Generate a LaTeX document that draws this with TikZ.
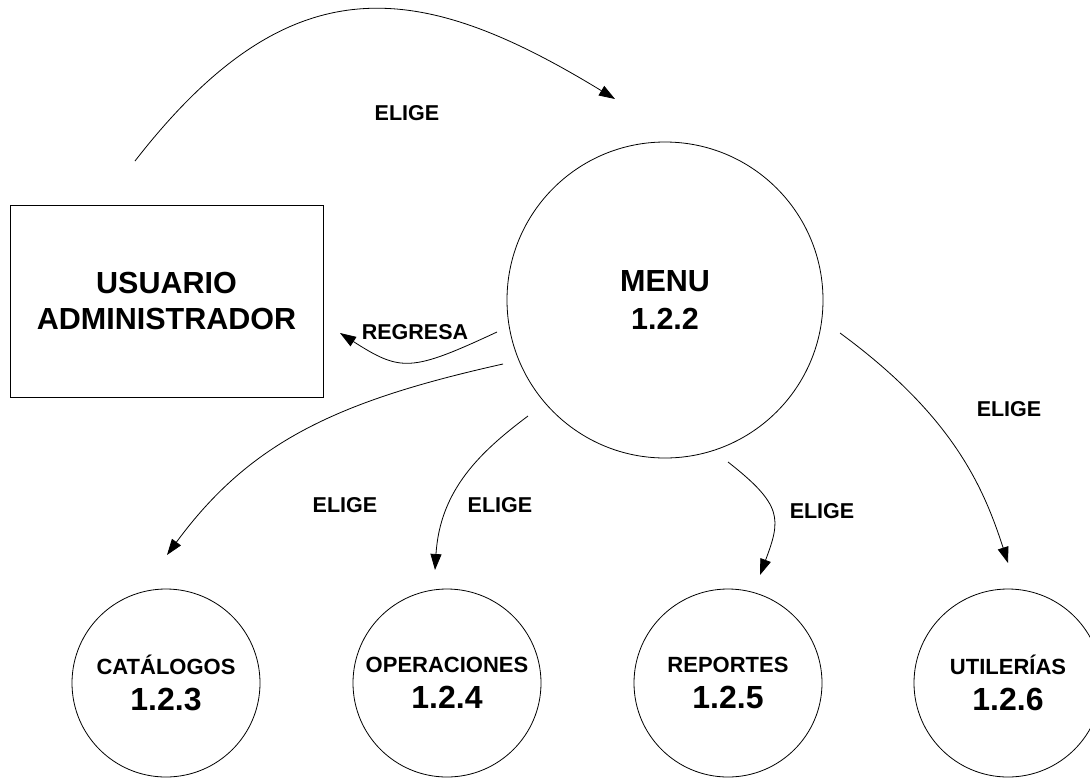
\documentclass[tikz,border=0pt]{standalone}
\usepackage{fontspec}
\setmainfont{Liberation Sans}
\usetikzlibrary{arrows.meta}
\begin{document}
\begin{tikzpicture}[x=1pt,y=-1pt,
  line width=0.8pt,
  entity/.style={draw,rectangle,minimum width=313pt,minimum height=192pt,inner sep=0pt,align=center,
    font=\bfseries\fontsize{30.5}{36.5}\selectfont},
  bigproc/.style={draw,circle,minimum size=316pt,inner sep=0pt,align=center,
    font=\bfseries\fontsize{30.5}{38}\selectfont},
  proc/.style={draw,circle,minimum size=188pt,inner sep=0pt,align=center,
    font=\bfseries\fontsize{22}{35.5}\selectfont},
  num/.style={},
  flow/.style={-{Triangle[length=16pt,width=11pt]}},
  lbl/.style={font=\bfseries\fontsize{21.5}{24}\selectfont,inner sep=0pt}]
\useasboundingbox (0,0) rectangle (1090,780);

% nodes
\node[entity] (user) at (166.5,301) {USUARIO\\ADMINISTRADOR};
\node[bigproc] (menu) at (665,300) {MENU\\1.2.2};
\node[proc] (cat) at (166,683) {CATÁLOGOS\\{\fontsize{32}{35.5}\selectfont 1.2.3}};
\node[proc] (ope) at (447,683) {OPERACIONES\\{\fontsize{32}{35.5}\selectfont 1.2.4}};
\node[proc] (rep) at (728,683) {REPORTES\\{\fontsize{32}{35.5}\selectfont 1.2.5}};
\node[proc] (uti) at (1008,683) {UTILERÍAS\\{\fontsize{32}{35.5}\selectfont 1.2.6}};

% connector end points
\coordinate (userOut) at (135,161);
\coordinate (menuIn) at (615,99);
\coordinate (menuBack) at (497,332);
\coordinate (userIn) at (340,333);
\coordinate (menuCat) at (503,364);
\coordinate (catIn) at (167,555);
\coordinate (menuOpe) at (528,416);
\coordinate (opeIn) at (435,570);
\coordinate (menuRep) at (728,462);
\coordinate (repIn) at (760,575);
\coordinate (menuUti) at (840,333);
\coordinate (utiIn) at (1008,563);

% connectors
\draw[flow] (userOut) .. controls (291,-40) and (420,-20) .. (menuIn);
\draw[flow] (menuBack) .. controls (411,372) and (401,372) .. (userIn);
\draw[flow] (menuCat) .. controls (337,401) and (250,442) .. (catIn);
\draw[flow] (menuOpe) .. controls (480,452) and (440,490) .. (opeIn);
\draw[flow] (menuRep) .. controls (783,505) and (781,519) .. (repIn);
\draw[flow] (menuUti) .. controls (952.8,415.7) and (983.5,487) .. (utiIn);

% labels
\node[lbl] (l0) at (407,113) {ELIGE};
\node[lbl] (l1) at (415,332) {REGRESA};
\node[lbl] (l2) at (345,505) {ELIGE};
\node[lbl] (l3) at (500,505) {ELIGE};
\node[lbl] (l4) at (822,511) {ELIGE};
\node[lbl] (l5) at (1009,409) {ELIGE};
\end{tikzpicture}
\end{document}
